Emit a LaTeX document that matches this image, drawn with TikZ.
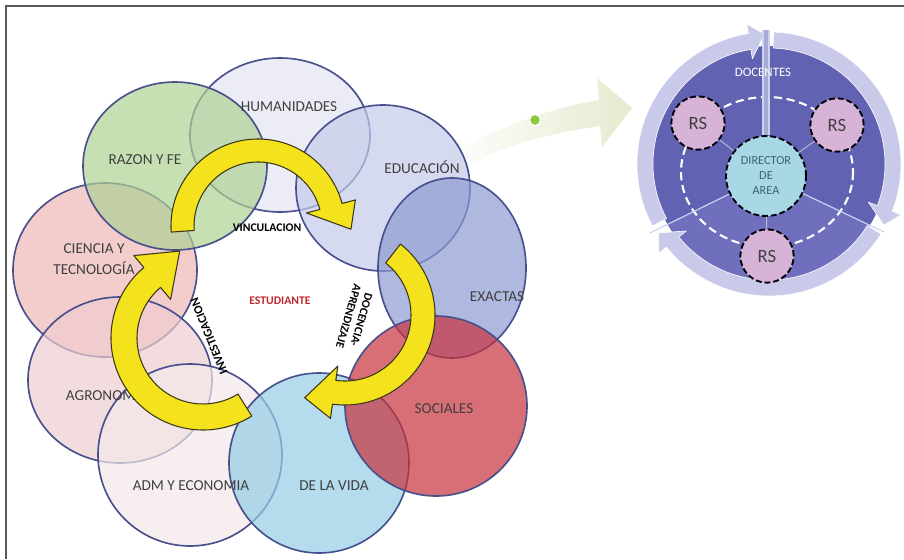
\documentclass[tikz,border=0pt]{standalone}
\usepackage{fontspec}
\setmainfont{Carlito}
\usetikzlibrary{positioning}

\definecolor{rim}{HTML}{474F8C}
\definecolor{humcol}{HTML}{E4E4F2}
\definecolor{razcol}{HTML}{AED193}
\definecolor{educol}{HTML}{C4CBE9}
\definecolor{exacol}{HTML}{8D9AD1}
\definecolor{soccol}{HTML}{C8323C}
\definecolor{vidcol}{HTML}{94CDE4}
\definecolor{admcol}{HTML}{F4E7EA}
\definecolor{agrcol}{HTML}{EECDD0}
\definecolor{ciecol}{HTML}{EEB6B7}
\definecolor{labelgray}{HTML}{404040}
\definecolor{arrowyellow}{HTML}{F4E21C}
\definecolor{arrowedge}{HTML}{3A3618}
\definecolor{studred}{HTML}{C0282D}
\definecolor{paleleaf}{HTML}{E4EBCF}
\definecolor{dotgreen}{HTML}{8DC63F}
\definecolor{discblue}{HTML}{6262B2}
\definecolor{disclow}{HTML}{6F6FBD}
\definecolor{ringcol}{HTML}{C9C9EA}
\definecolor{rspink}{HTML}{D8B3D8}
\definecolor{dirblue}{HTML}{A8D8E6}
\definecolor{dirtext}{HTML}{3E6470}
\definecolor{linkgray}{HTML}{B8B8D8}
\definecolor{divcol}{HTML}{C6D6F0}

% thick curved arrow: center, tail angle, head angle, tip, inner r, outer r, style
\newcommand\bandarrow[7]{%
  \begin{scope}[shift={(#1)}]
    \path[#7] (#2:#6) arc[start angle=#2, end angle=#3, radius=#6]
      -- (#3:{#6+0.6*(#6-#5)}) -- (#4) -- (#3:{#5-0.6*(#6-#5)})
      -- (#3:#5) arc[start angle=#3, end angle=#2, radius=#5] -- cycle;
  \end{scope}}

\begin{document}
\begin{tikzpicture}[x=0.03cm, y=-0.03cm,
    area/.style={draw=rim, line width=1.4pt, fill opacity=0.7},
    circtext/.style={text=labelgray, font=\fontsize{13}{18.5}\selectfont, align=center},
    flowtext/.style={font=\bfseries\fontsize{10}{11.5}\selectfont, inner sep=1pt, align=center},
    yarrow/.style={fill=arrowyellow, draw=arrowedge, line width=0.9pt, line join=round},
    ringarrow/.style={fill=ringcol, draw=white, line width=0.5pt, line join=round},
    rsnode/.style={circle, fill=rspink, draw=black, line width=1.6pt,
      dash pattern=on 5pt off 2.5pt, minimum size=1.6cm, inner sep=0pt,
      text=labelgray, font=\fontsize{16}{18}\selectfont},
    dirnode/.style={circle, fill=dirblue, draw=black, line width=1.6pt,
      dash pattern=on 5pt off 2.5pt, minimum size=2.4cm, inner sep=0pt,
      text=dirtext, font=\fontsize{10.5}{12.8}\selectfont, align=center},
    link/.style={draw=linkgray, line width=0.8pt},
    divline/.style={draw=divcol, line width=1pt}]
  \useasboundingbox (0,0) rectangle (904,559);
  \draw[line width=1.7pt, draw=black!65] (6,559) -- (6,6) -- (904,6);

  % pale arrow towards the area
  \shade[left color=white, right color=paleleaf]
    (440,160) .. controls (480,135) and (540,110) .. (599,100)
    -- (597,78) -- (632,108) -- (602,147) -- (600,126)
    .. controls (540,135) and (480,150) .. (445,185) -- cycle;
  \node[circle, fill=dotgreen, draw=white, line width=1pt, inner sep=0pt,
    minimum size=0.33cm] (dot) at (535,120) {};

  % faculties
  \filldraw[area, fill=humcol] (280,135) ellipse (90 and 77);
  \filldraw[area, fill=ciecol] (105,270) ellipse (92 and 87);
  \filldraw[area, fill=razcol] (175,166) ellipse (92 and 84);
  \filldraw[area, fill=educol] (383,188) ellipse (87 and 83);
  \filldraw[area, fill=exacol] (452,268) ellipse (74 and 90);
  \filldraw[area, fill=agrcol] (120,380) ellipse (92 and 83);
  \filldraw[area, fill=admcol] (190,455) ellipse (92 and 91);
  \filldraw[area, fill=vidcol] (319,463) ellipse (90 and 90);
  \filldraw[area, fill=soccol] (436,406) ellipse (91 and 90);

  \node[circtext] (hum) at (289,107) {HUMANIDADES};
  \node[circtext] (raz) at (145,160) {RAZON Y FE};
  \node[circtext] (edu) at (422,167) {EDUCACIÓN};
  \node[circtext] (cie) at (94,259) {CIENCIA Y\\TECNOLOGÍA};
  \node[circtext] (exa) at (497,297) {EXACTAS};
  \node[circtext] (agr) at (107,396) {AGRONOMIA};
  \node[circtext] (soc) at (444,409) {SOCIALES};
  \node[circtext] (adm) at (191,486) {ADM Y ECONOMIA};
  \node[circtext] (vid) at (334,486) {DE LA VIDA};

  % cycle around the student
  \bandarrow{258,226}{176}{345}{362:93}{64}{87}{yarrow}
  \bandarrow{345,315}{-52}{98}{116:92}{66}{90}{yarrow}
  \bandarrow{203,338}{58}{230}{255:90}{66}{92}{yarrow}

  \node[flowtext] (vin) at (267,228) {VINCULACION};
  \node[flowtext, text=studred] (est) at (280,301) {ESTUDIANTE};
  \node[flowtext, rotate=-106] (doc) at (355,318) {DOCENCIA-\\APRENDIZAJE};
  \node[flowtext, rotate=112, font=\bfseries\fontsize{10.5}{12}\selectfont] (inv) at (209,336) {INVESTIGACION};

  % area
  \fill[discblue] (769,164) circle (118);
  \begin{scope}
    \clip (769,164) circle (118);
    \fill[disclow] (766,176) -- (580,267) -- (580,330) -- (950,330) -- (950,263) -- cycle;
  \end{scope}
  \bandarrow{769,164}{152}{261}{268:130}{116}{132}{ringarrow}
  \bandarrow{769,164}{272}{381}{388:130}{116}{132}{ringarrow}
  \bandarrow{769,164}{32}{141}{148:130}{116}{132}{ringarrow}

  \coordinate (divtop) at (766,30);
  \coordinate (divll) at (650,233);
  \coordinate (divlr) at (884,232);
  \draw[white, line width=1.8pt, dash pattern=on 7pt off 4pt] (767,172) ellipse (86 and 75);

  \node[dirnode] (dir) at (766,176) {DIRECTOR\\DE\\AREA};
  \draw[divline, double=discblue!55!white, double distance=4pt] (dir) -- (divtop);
  \draw[divline] (dir) -- (divll);
  \draw[divline] (dir) -- (divlr);
  \node[text=white, font=\fontsize{11}{13}\selectfont] (doce) at (763,72) {DOCENTES};
  \node[rsnode] (rsl) at (698,123) {RS};
  \node[rsnode] (rsr) at (837,125) {RS};
  \node[rsnode] (rsb) at (767,256) {RS};
  \draw[link] (dir) -- (rsl);
  \draw[link] (dir) -- (rsr);
  \draw[link] (dir) -- (rsb);
\end{tikzpicture}
\end{document}
